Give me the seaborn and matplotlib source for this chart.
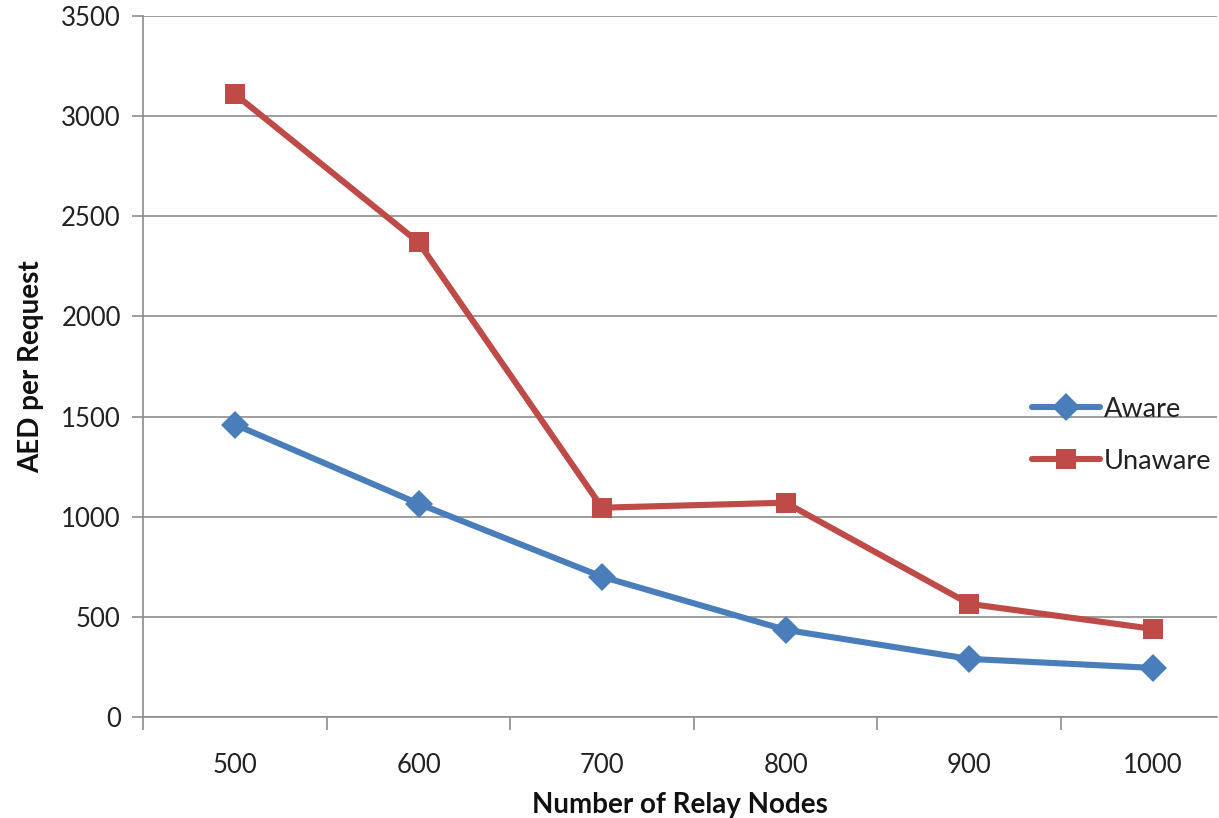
import matplotlib
matplotlib.use("Agg")
import matplotlib.pyplot as plt
import seaborn as sns
import pandas as pd

# Data
relay_nodes = ["500", "600", "700", "800", "900", "1000"]
aware = [1460, 1065, 700, 435, 290, 245]
unaware = [3110, 2370, 1045, 1070, 565, 440]
y_ticks = [0, 500, 1000, 1500, 2000, 2500, 3000, 3500]

df = pd.DataFrame({
    "nodes": relay_nodes * 2,
    "aed": aware + unaware,
    "series": ["Aware"] * len(aware) + ["Unaware"] * len(unaware),
})

sns.set_theme(style="white")
plt.rcParams["font.family"] = ["Lato", "DejaVu Sans"]

fig = plt.figure(figsize=(12.19, 8.18), dpi=100)
ax = fig.add_axes([0.1173, 0.1235, 0.8811, 0.8569])

palette = {"Aware": "#4A7EBB", "Unaware": "#BE4B48"}
sns.lineplot(data=df, x="nodes", y="aed", hue="series", style="series",
             markers={"Aware": "D", "Unaware": "s"}, dashes=False,
             palette=palette, linewidth=4.4, markersize=14,
             markeredgewidth=0, ax=ax, sort=False)

ax.set_ylim(0, 3500)
ax.set_yticks(y_ticks)
ax.set_xlim(-0.501, 5.35)
ax.set_xticks(range(len(relay_nodes)))
ax.set_xticklabels(relay_nodes)
ax.set_xticks([i - 0.5 for i in range(len(relay_nodes))], minor=True)

ax.grid(axis="y", color="#8C8C8C", linewidth=1.2)
ax.set_axisbelow(True)
for s in ["top", "right"]:
    ax.spines[s].set_visible(False)
for s in ["left", "bottom"]:
    ax.spines[s].set_color("#8C8C8C")
    ax.spines[s].set_linewidth(1.2)

ax.tick_params(axis="y", which="major", length=8, width=1.2, color="#8C8C8C",
               labelsize=18.5, labelcolor="#222222", pad=8, left=True)
ax.tick_params(axis="x", which="major", length=0, labelsize=18.5,
               labelcolor="#222222", pad=26)
ax.tick_params(axis="x", which="minor", length=9, width=1.2, color="#8C8C8C",
               bottom=True)

ax.set_xlabel("Number of Relay Nodes", fontsize=20, fontweight="bold",
              color="#111111", labelpad=10)
ax.set_ylabel("AED per Request", fontsize=20, fontweight="bold",
              color="#111111", labelpad=12)

leg = ax.legend(loc="center left", bbox_to_anchor=(0.818, 0.402), frameon=False,
                fontsize=19.5, handlelength=2.5, handletextpad=0.15,
                labelspacing=1.0, borderaxespad=0)
for t in leg.get_texts():
    t.set_color("#222222")

fig.savefig("out.png", dpi=100)
